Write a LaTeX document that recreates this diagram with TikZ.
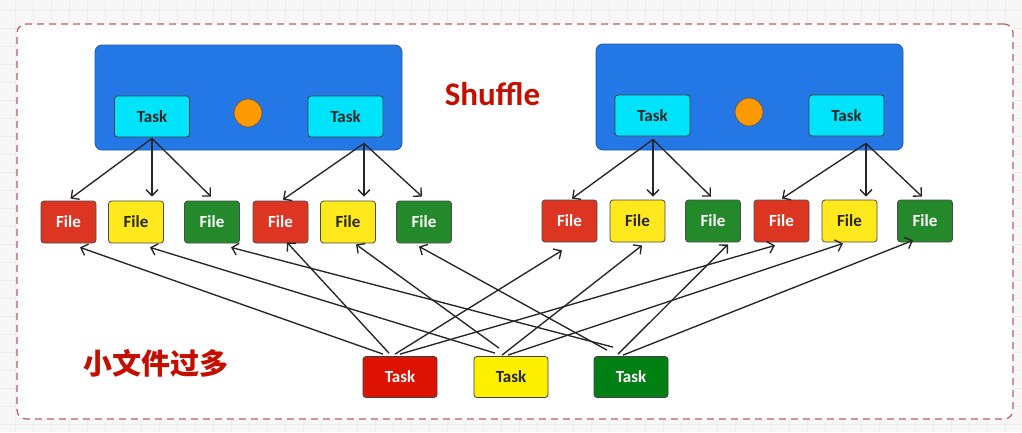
\documentclass[tikz,border=0pt]{standalone}
\usepackage{fontspec}
\setmainfont{Carlito}
\newfontfamily\cjk{Noto Sans CJK SC}
\usetikzlibrary{arrows.meta,calc}
\definecolor{bluebox}{HTML}{2378E6}
\definecolor{blueedge}{HTML}{1B57A8}
\definecolor{cyanbox}{HTML}{00E4FB}
\definecolor{cyanedge}{HTML}{1C7F99}
\definecolor{orng}{HTML}{FF9900}
\definecolor{fred}{HTML}{DC3522}
\definecolor{fyel}{HTML}{FFE81C}
\definecolor{fgrn}{HTML}{24892B}
\definecolor{tred}{HTML}{DD1200}
\definecolor{tyel}{HTML}{FFF000}
\definecolor{tgrn}{HTML}{028013}
\definecolor{darkred}{HTML}{C40F00}
\definecolor{dashc}{HTML}{B2625A}
\definecolor{gridc}{HTML}{EDEDED}
\begin{document}
\begin{tikzpicture}[x=1pt,y=-1pt,
  box/.style={rectangle,rounded corners=3pt,draw=#1,line width=0.8pt,inner sep=0pt,font=\fontsize{17}{19}\selectfont\bfseries},
  filebox/.style={box=black!70,minimum width=55pt,minimum height=42pt},
  tbox/.style={box=black!75,minimum width=75pt,minimum height=41pt},
  arr/.style={draw=black!85,line width=1.35pt,-{Straight Barb[length=6pt,width=12pt,line width=1.35pt]}}]
\useasboundingbox (0,0) rectangle (1022,432);
\fill[white!97!black] (0,0) rectangle (1022,432);
\foreach \x in {15,33,...,1022} \draw[gridc,line width=0.6pt] (\x,0) -- (\x,432);
\foreach \y in {10,28,...,432} \draw[gridc,line width=0.6pt] (0,\y) -- (1022,\y);
\node[draw=dashc,line width=1.2pt,dash pattern=on 7pt off 5pt,fill=white,rounded corners=9pt,minimum width=996pt,minimum height=395pt,inner sep=0pt] (frame) at (515,221.5) {};
% blue boxes
\node[rectangle,rounded corners=7pt,fill=bluebox,draw=blueedge,line width=0.8pt,minimum width=307pt,minimum height=105pt,inner sep=0pt] (bl) at (248.5,97.5) {};
\node[rectangle,rounded corners=7pt,fill=bluebox,draw=blueedge,line width=0.8pt,minimum width=307pt,minimum height=106pt,inner sep=0pt] (br) at (749.5,97) {};
\node[tbox,fill=cyanbox,text=black!85] (t1) at (152,116.5) {Task};
\node[tbox,fill=cyanbox,text=black!85] (t2) at (345.5,116.5) {Task};
\node[tbox,fill=cyanbox,text=black!85] (t3) at (652.5,115.5) {Task};
\node[tbox,fill=cyanbox,text=black!85] (t4) at (846.5,115.5) {Task};
\node[circle,fill=orng,draw=black!65,line width=0.7pt,minimum size=28pt,inner sep=0pt] (c1) at (248,113) {};
\node[circle,fill=orng,draw=black!65,line width=0.7pt,minimum size=28pt,inner sep=0pt] (c2) at (749,112) {};
% files
\node[filebox,fill=fred,text=white] (f1) at (68.5,222) {File};
\node[filebox,fill=fyel,text=black!85] (f2) at (136,222) {File};
\node[filebox,fill=fgrn,text=white] (f3) at (212,222) {File};
\node[filebox,fill=fred,text=white] (f4) at (280.5,222) {File};
\node[filebox,fill=fyel,text=black!85] (f5) at (348,222) {File};
\node[filebox,fill=fgrn,text=white] (f6) at (424,222) {File};
\node[filebox,fill=fred,text=white] (f7) at (569.5,221) {File};
\node[filebox,fill=fyel,text=black!85] (f8) at (637.5,221) {File};
\node[filebox,fill=fgrn,text=white] (f9) at (713,221) {File};
\node[filebox,fill=fred,text=white] (f10) at (781.5,221) {File};
\node[filebox,fill=fyel,text=black!85] (f11) at (849.5,221) {File};
\node[filebox,fill=fgrn,text=white] (f12) at (925,221) {File};
% bottom tasks
\node[box=black!75,minimum width=74pt,minimum height=41pt,fill=tred,text=white] (br1) at (400,377) {Task};
\node[box=black!75,minimum width=74pt,minimum height=41pt,fill=tyel,text=black!85] (by1) at (511,377) {Task};
\node[box=black!75,minimum width=74pt,minimum height=41pt,fill=tgrn,text=white] (bg1) at (631,377) {Task};
% labels
\node[text=darkred,font=\fontsize{33}{36}\selectfont\bfseries,inner sep=0pt] (shuf) at (492.5,94) {Shuffle};
\node[text=darkred,font=\cjk\bfseries\fontsize{29}{32}\selectfont,inner sep=0pt] (xwj) at (156,363) {小文件过多};
% top arrows
\draw[arr] ($(t1.south)+(0,1)$) -- ($(f1.north)+(2,-2)$);
\draw[arr] ($(t1.south)+(0,1)$) -- ($(f2.north)+(16,-4)$);
\draw[arr] ($(t1.south)+(0,1)$) -- ($(f3.north)+(-1,-4)$);
\draw[arr] ($(t2.south)+(18.5,6)$) -- ($(f4.north)+(2.5,-1)$);
\draw[arr] ($(t2.south)+(18.5,6)$) -- ($(f5.north)+(16,-4)$);
\draw[arr] ($(t2.south)+(18.5,6)$) -- ($(f6.north)+(-2,-4)$);
\draw[arr] ($(t3.south)+(0.5,3)$) -- ($(f7.north)+(2.5,-1)$);
\draw[arr] ($(t3.south)+(0.5,3)$) -- ($(f8.north)+(15.5,-3)$);
\draw[arr] ($(t3.south)+(0.5,3)$) -- ($(f9.north)+(-2,-3)$);
\draw[arr] ($(t4.south)+(19.5,7)$) -- ($(f10.north)+(0.5,-1)$);
\draw[arr] ($(t4.south)+(19.5,7)$) -- ($(f11.north)+(16.5,-3)$);
\draw[arr] ($(t4.south)+(19.5,7)$) -- ($(f12.north)+(-3,-3)$);
% bottom arrows
\draw[arr] ($(br1.north)+(-17,-2)$) -- ($(f1.south)+(11.5,4)$);
\draw[arr] ($(br1.north)+(-11,-3)$) -- ($(f4.south)+(6.5,-1)$);
\draw[arr] ($(br1.north)+(-5,-2)$) -- ($(f7.south)+(-7.5,8)$);
\draw[arr] ($(br1.north)+(0,-2)$) -- ($(f10.south)+(-6.5,3)$);
\draw[arr] ($(by1.north)+(-16,-3)$) -- ($(f2.south)+(14,4)$);
\draw[arr] ($(by1.north)+(-12,-8)$) -- ($(f5.south)+(8,1)$);
\draw[arr] ($(by1.north)+(-9,-1)$) -- ($(f8.south)+(4.5,3)$);
\draw[arr] ($(by1.north)+(-3,-1)$) -- ($(f11.south)+(-6.5,1)$);
\draw[arr] ($(bg1.north)+(-18,-9)$) -- ($(f3.south)+(19,4)$);
\draw[arr] ($(bg1.north)+(-24,-6)$) -- ($(f6.south)+(-5,3)$);
\draw[arr] ($(bg1.north)+(-13,-2)$) -- ($(f9.south)+(15,2)$);
\draw[arr] ($(bg1.north)+(-8,-1)$) -- ($(f12.south)+(-12,-2)$);
\end{tikzpicture}
\end{document}
